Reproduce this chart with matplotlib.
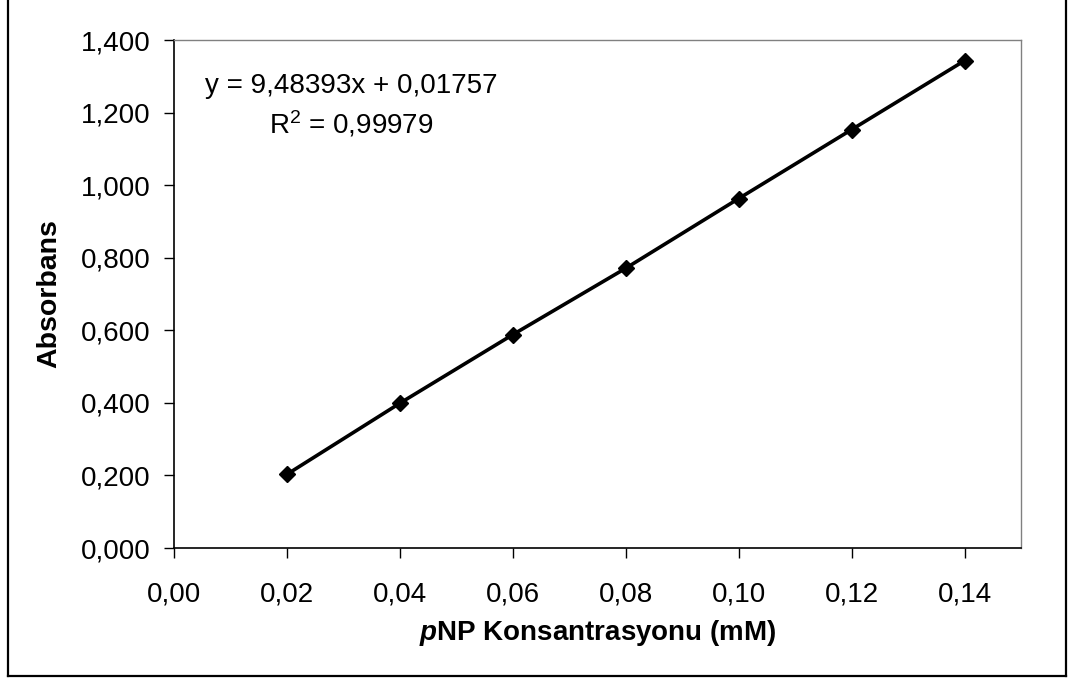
import matplotlib.pyplot as plt
import numpy as np
from matplotlib.lines import Line2D

plt.rcParams['font.family'] = ['Liberation Sans', 'DejaVu Sans']
plt.rcParams['mathtext.fontset'] = 'custom'
plt.rcParams['mathtext.rm'] = 'Liberation Sans'
plt.rcParams['mathtext.it'] = 'Liberation Sans:italic:bold'
plt.rcParams['mathtext.bf'] = 'Liberation Sans:bold'

konsantrasyon = [0.02, 0.04, 0.06, 0.08, 0.10, 0.12, 0.14]
absorbans = [0.203, 0.399, 0.588, 0.771, 0.963, 1.153, 1.343]

x_ticks = [0.00, 0.02, 0.04, 0.06, 0.08, 0.10, 0.12, 0.14]
y_ticks = [0.0, 0.2, 0.4, 0.6, 0.8, 1.0, 1.2, 1.4]

denklem = "y = 9,48393x + 0,01757\nR$^{2}$ = 0,99979"

fig = plt.figure(figsize=(10.72, 6.78), dpi=100)
ax = fig.add_axes([174/1072, 1 - 548/678, (1021 - 174)/1072, (548 - 40)/678])

ax.plot(konsantrasyon, absorbans, '-', color='black', lw=2.6,
        marker='D', markersize=8, markerfacecolor='black', markeredgecolor='black')

ax.set_xlim(0, 0.15)
ax.set_ylim(0, 1.4)
ax.set_xticks(x_ticks)
ax.set_yticks(y_ticks)
ax.set_xticklabels([f"{v:.2f}".replace('.', ',') for v in x_ticks])
ax.set_yticklabels([f"{v:,.3f}".replace('.', ',') for v in y_ticks])
ax.tick_params(axis='both', direction='out', length=7, width=1, labelsize=20, color='black')
ax.tick_params(axis='x', pad=17)
ax.tick_params(axis='y', pad=10)

for s in ['left', 'bottom']:
    ax.spines[s].set_color('black')
    ax.spines[s].set_linewidth(1.2)
for s in ['top', 'right']:
    ax.spines[s].set_color('#808080')
    ax.spines[s].set_linewidth(1)

ax.set_xlabel("$p$NP Konsantrasyonu (mM)", fontsize=20, fontweight='bold', labelpad=8)
ax.set_ylabel("Absorbans", fontsize=20.5, fontweight='bold', labelpad=13)

ax.text(0.03135, 1.308, denklem, fontsize=20, ha='center', va='top',
        multialignment='center', linespacing=1.37)

# cerceve
for xs, ys in [([8, 8], [-5, 676]), ([1066, 1066], [-5, 676]), ([8, 1066], [676, 676])]:
    fig.add_artist(Line2D([x/1072 for x in xs], [1 - y/678 for y in ys],
                          color='black', lw=1.6, transform=fig.transFigure))

plt.savefig("out.png", dpi=100)
